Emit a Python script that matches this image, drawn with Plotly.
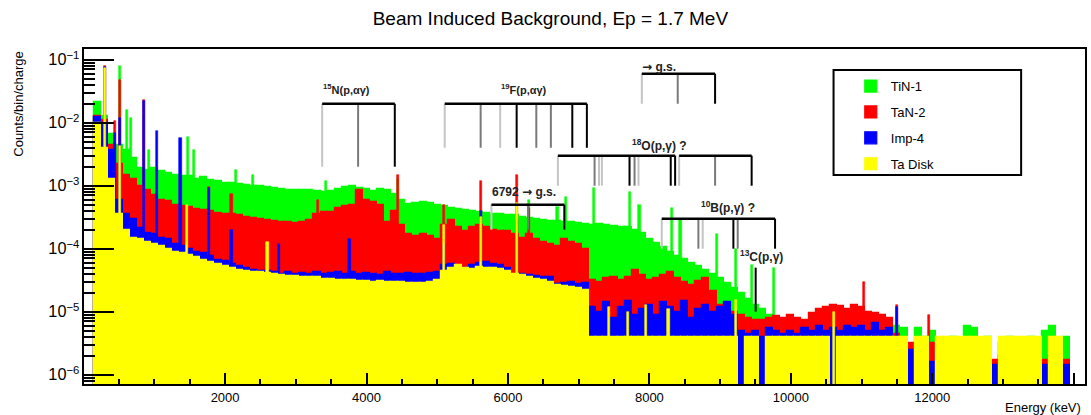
import numpy as np
import plotly.graph_objects as go

# ---------------- data ----------------
BIN_START_KEV = 200      # centre of first 100 keV bin
BIN_WIDTH_KEV = 100
SPIKE_WIDTH_KEV = 30

series_names = ["TiN-1", "TaN-2", "Imp-4", "Ta Disk"]

# continuum, counts/bin/charge, bin centres 200 ... 13900 keV
tin1 = [
    2.1e-2, 1.3e-2, 6.5e-3, 4.5e-3, 3.7e-3, 2.8e-3, 1.9e-3, 1.8e-3,
    1.9e-3, 1.7e-3, 1.6e-3, 1.5e-3, 1.45e-3, 1.4e-3, 1.3e-3, 1.35e-3, 1.25e-3, 1.2e-3,
    1.1e-3, 1.12e-3, 1.05e-3, 1.02e-3, 9.9e-4, 1.0e-3, 9.5e-4, 9.3e-4, 9.0e-4, 8.6e-4,
    8.7e-4, 8.4e-4, 8.5e-4, 8.1e-4, 7.8e-4, 8.2e-4, 9.0e-4, 9.4e-4, 1.0e-3, 9.2e-4,
    8.8e-4, 8.3e-4, 8.9e-4, 8.7e-4, 7.5e-4, 6.0e-4, 5.2e-4, 5.4e-4, 5.5e-4, 5.3e-4,
    5.0e-4, 4.7e-4, 4.5e-4, 4.2e-4, 4.1e-4, 4.0e-4, 3.8e-4, 3.7e-4, 3.5e-4, 3.5e-4,
    3.4e-4, 3.4e-4, 3.2e-4, 3.1e-4, 3.0e-4, 2.9e-4, 2.8e-4, 2.8e-4, 2.7e-4, 2.7e-4,
    2.6e-4, 2.5e-4, 2.4e-4, 2.45e-4, 2.35e-4, 2.3e-4, 2.25e-4, 2.2e-4, 2.0e-4, 1.75e-4,
    1.45e-4, 1.25e-4, 1.05e-4, 9.0e-5, 7.7e-5, 6.8e-5, 6.0e-5, 5.3e-5, 4.6e-5, 4.0e-5,
    3.4e-5, 2.9e-5, 2.4e-5, 2.0e-5, 1.6e-5, 1.3e-5, 1.1e-5, 9.0e-6, 6.0e-6, 7.0e-6,
    6e-6, 5e-6, 6e-6, 7e-6, 6e-6, 7e-6, 8e-6, 7e-6, 6e-6, 8e-6,
    7e-6, 6e-6, 7e-6, 6e-6, 5e-6, 6e-6, 5.5e-6, 0, 5.5e-6, 4e-6,
    5e-6, 0, 0, 4e-6, 0, 6e-6, 5.5e-6, 0, 4e-6, 0,
    0, 4e-6, 0, 0, 4e-6, 0, 5e-6, 6e-6, 0, 4e-6,
]
tan2 = [
    1.3e-2, 1.1e-2, 4.5e-3, 2.2e-3, 1.5e-3, 1.3e-3, 1.0e-3, 8.6e-4,
    7.2e-4, 6.0e-4, 5.7e-4, 5.0e-4, 4.7e-4, 4.6e-4, 4.2e-4, 4.1e-4, 3.9e-4, 3.7e-4,
    3.6e-4, 3.5e-4, 3.4e-4, 3.2e-4, 3.1e-4, 3.0e-4, 2.9e-4, 2.8e-4, 2.7e-4, 2.7e-4,
    2.6e-4, 2.7e-4, 2.9e-4, 3.5e-4, 3.8e-4, 3.8e-4, 4.5e-4, 4.8e-4, 5.0e-4, 8.6e-4,
    6.0e-4, 5.5e-4, 5.0e-4, 2.7e-4, 4.0e-4, 2.4e-4, 1.7e-4, 1.6e-4, 1.7e-4, 1.6e-4,
    1.4e-4, 2.4e-4, 2.9e-4, 2.2e-4, 1.9e-4, 2.2e-4, 2.4e-4, 2.2e-4, 2.0e-4, 1.9e-4,
    1.9e-4, 1.7e-4, 1.5e-4, 1.7e-4, 1.4e-4, 1.3e-4, 1.2e-4, 1.1e-4, 1.4e-4, 1.3e-4,
    1.2e-4, 1.0e-4, 3.2e-5, 3.0e-5, 3.4e-5, 3.6e-5, 3.2e-5, 3.5e-5, 4.6e-5, 3.8e-5,
    3.2e-5, 3.4e-5, 3.8e-5, 4.3e-5, 3.4e-5, 3.0e-5, 2.7e-5, 3.1e-5, 3.4e-5, 2.1e-5,
    1.3e-5, 1.1e-5, 1.0e-5, 9.0e-6, 8.0e-6, 7.5e-6, 7.5e-6, 8.0e-6, 8.5e-6, 8.0e-6,
    9.0e-6, 8.0e-6, 7.5e-6, 9.5e-6, 1.1e-5, 1.2e-5, 1.3e-5, 1.25e-5, 1.1e-5, 1.3e-5,
    1.2e-5, 1.0e-5, 9.5e-6, 9.0e-6, 8.0e-6, 4.5e-6, 3.6e-6, 3.2e-6, 3.2e-6, 3.5e-6,
    3.2e-6, 3.2e-6, 3.0e-6, 3.2e-6, 2.5e-6, 3.2e-6, 1.7e-6, 3.2e-6, 3.0e-6, 1.7e-6,
    3.2e-6, 1.7e-6, 3.2e-6, 1.7e-6, 1.7e-6, 3.2e-6, 1.7e-6, 2.0e-6, 1.7e-6, 1.7e-6,
]
imp4 = [
    1.25e-2, 1.0e-2, 3.7e-3, 6.0e-4, 3.5e-4, 3.0e-4, 2.1e-4, 1.8e-4,
    1.7e-4, 1.5e-4, 1.4e-4, 1.2e-4, 1.1e-4, 1.0e-4, 9.0e-5, 8.5e-5, 7.7e-5, 6.7e-5,
    6.3e-5, 5.7e-5, 5.4e-5, 5.0e-5, 4.6e-5, 4.4e-5, 4.5e-5, 4.2e-5, 4.0e-5, 4.2e-5,
    4.0e-5, 4.1e-5, 3.9e-5, 4.2e-5, 4.0e-5, 4.1e-5, 4.3e-5, 4.0e-5, 4.2e-5, 3.9e-5,
    4.1e-5, 4.0e-5, 3.8e-5, 4.2e-5, 4.0e-5, 3.9e-5, 4.1e-5, 3.9e-5, 4.0e-5, 4.1e-5,
    4.3e-5, 5.5e-5, 5.8e-5, 5.2e-5, 5.0e-5, 5.5e-5, 6.0e-5, 6.2e-5, 5.8e-5, 5.5e-5,
    5.0e-5, 3.5e-5, 3.9e-5, 3.8e-5, 3.7e-5, 3.6e-5, 3.5e-5, 2.8e-5, 2.9e-5, 3.0e-5,
    2.8e-5, 2.9e-5, 1.2e-5, 1.0e-5, 1.4e-5, 8.0e-6, 1.2e-5, 1.5e-5, 9.0e-6, 1.1e-5,
    1.3e-5, 9.0e-6, 1.4e-5, 1.2e-5, 1.0e-5, 1.5e-5, 8.0e-6, 1.1e-5, 1.3e-5, 1.0e-5,
    1.2e-5, 1.4e-5, 9.0e-6, 5.0e-6, 4.5e-6, 5.0e-6, 4.0e-6, 5.5e-6, 5.0e-6, 4.5e-6,
    5.0e-6, 4.5e-6, 5.5e-6, 5.0e-6, 6.0e-6, 5.0e-6, 5.5e-6, 5.0e-6, 6.0e-6, 5.5e-6,
    6.0e-6, 5.0e-6, 6.5e-6, 5.0e-6, 5.5e-6, 2.5e-6, 3.0e-6, 2.5e-6, 2.0e-6, 2.5e-6,
    1.6e-6, 2.5e-6, 1.5e-6, 2.0e-6, 1.5e-6, 2.5e-6, 1.4e-6, 2.0e-6, 1.5e-6, 1.4e-6,
    2.0e-6, 1.4e-6, 1.5e-6, 2.0e-6, 1.4e-6, 1.6e-6, 1.4e-6, 1.5e-6, 1.4e-6, 1.4e-6,
]
ta_disk = [
    1.0e-2, 4.0e-3, 1.3e-3, 3.5e-4, 2.0e-4, 1.5e-4, 1.4e-4, 1.3e-4,
    1.2e-4, 1.1e-4, 1.0e-4, 9.0e-5, 8.5e-5, 8.0e-5, 7.3e-5, 6.7e-5, 6.2e-5, 5.8e-5,
    5.3e-5, 5.0e-5, 4.6e-5, 4.4e-5, 4.3e-5, 4.2e-5, 4.1e-5, 3.9e-5, 3.8e-5, 3.7e-5,
    3.7e-5, 3.6e-5, 3.5e-5, 3.5e-5, 3.3e-5, 3.3e-5, 3.2e-5, 3.2e-5, 3.2e-5, 3.1e-5,
    3.1e-5, 3.0e-5, 3.1e-5, 3.0e-5, 3.0e-5, 3.0e-5, 2.9e-5, 2.9e-5, 2.9e-5, 3.0e-5,
    3.2e-5, 4.5e-5, 5.0e-5, 5.5e-5, 5.0e-5, 4.8e-5, 5.2e-5, 5.0e-5, 4.9e-5, 4.7e-5,
    4.5e-5, 4.0e-5, 3.8e-5, 3.5e-5, 3.3e-5, 3.2e-5, 3.0e-5, 2.7e-5, 2.6e-5, 2.5e-5,
    2.4e-5, 2.2e-5, 4e-6, 4e-6, 4e-6, 4e-6, 4e-6, 4e-6, 4e-6, 4e-6,
    4e-6, 4e-6, 4e-6, 4e-6, 4e-6, 4e-6, 4e-6, 4e-6, 4e-6, 4e-6,
    4e-6, 4e-6, 4e-6, 0, 4e-6, 4e-6, 0, 4e-6, 4e-6, 4e-6,
    4e-6, 4e-6, 4e-6, 4e-6, 4e-6, 4e-6, 0, 4e-6, 4e-6, 4e-6,
    4e-6, 4e-6, 4e-6, 4e-6, 4e-6, 4e-6, 4e-6, 0, 4e-6, 4e-6,
    0, 4e-6, 4e-6, 4e-6, 4e-6, 4e-6, 4e-6, 4e-6, 4e-6, 0,
    4e-6, 4e-6, 4e-6, 4e-6, 4e-6, 4e-6, 0, 4e-6, 4e-6, 0,
]

# narrow gamma lines on top of each continuum
tin1_peak_keV = [511, 610, 665, 930, 1470, 1565, 2160, 2390, 3430, 4440, 6300,
                 6700, 6820, 7215, 7720, 7860, 8320, 8440, 8950, 9220, 9450, 9760]
tin1_peak_val = [8.0e-2, 1.6e-2, 1.2e-2, 3.7e-3, 6.0e-3, 3.7e-3, 1.8e-3, 1.5e-3,
                 1.2e-3, 1.3e-3, 6.0e-4, 4.6e-4, 6.7e-4, 9.3e-4, 8.0e-4, 5.0e-4,
                 4.5e-4, 2.9e-4, 1.7e-4, 1.0e-4, 5.6e-5, 5.0e-5]
tan2_peak_keV = [300, 440, 511, 852, 1770, 2090, 3320, 4440, 5100, 5620, 6130,
                 6300, 11030, 11500, 11950]
tan2_peak_val = [8.0e-2, 1.05e-2, 4.8e-2, 2.3e-2, 9.5e-4, 7.5e-4, 6.0e-4, 1.5e-3,
                 5.0e-4, 1.2e-3, 1.5e-3, 4.5e-4, 3.0e-5, 1.3e-5, 9.0e-6]
imp4_peak_keV = [300, 440, 511, 852, 1035, 1370, 1770, 2090, 2760, 3760, 5100,
                 5620, 6130, 11500]
imp4_peak_val = [7.7e-2, 6.8e-3, 1.2e-2, 2.2e-2, 7.3e-3, 5.8e-3, 9.3e-4, 2.0e-4,
                 1.2e-4, 1.4e-4, 1.2e-4, 3.9e-4, 3.0e-4, 1.2e-5]
ta_disk_peak_keV = [300, 511, 1460, 2600, 5100, 5620, 6130, 7430, 7700, 7950,
                    8270, 9220, 10610]
ta_disk_peak_val = [7.5e-2, 4.2e-3, 5.0e-4, 1.3e-4, 2.4e-4, 3.2e-4, 5.3e-4,
                    1.2e-5, 1.0e-5, 1.3e-5, 1.1e-5, 1.55e-5, 1.0e-5]

series_colors = ["#00ff00", "#ff0000", "#0000ff", "#ffff00"]

# gamma-line markers (energies in keV, shade of each line)
n15_keV = [3373, 3881, 4400]
n15_shade = ["light", "mid", "dark"]
f19_keV = [5106, 5614, 5890, 6123, 6401, 6607, 6910, 7116]
f19_shade = ["light", "mid", "light", "dark", "mid", "mid", "dark", "dark"]
gs_keV = [7893, 8401, 8929]
gs_shade = ["light", "mid", "dark"]
o18a_keV = [6706, 7225, 7288, 7328, 7719, 7790, 7846, 8302, 8364]
o18a_shade = ["light", "mid", "light", "light", "dark", "mid", "light", "dark", "dark"]
o18b_keV = [8421, 8929, 9446]
o18b_shade = ["light", "mid", "dark"]
g6792_keV = [5766, 6283, 6797]
g6792_shade = ["light", "mid", "dark"]
b10_keV = [8175, 8693, 8754, 9188, 9249, 9777]
b10_shade = ["light", "mid", "light", "dark", "mid", "dark"]
c13_keV = [9503]
c13_shade = ["dark"]

x_tick_vals = [2000, 4000, 6000, 8000, 10000, 12000, 14000]
x_tick_text = ["2000", "4000", "6000", "8000", "10000", "12000", "14000"]

# ---------------- figure ----------------
FONT = "Liberation Sans, Arial, Helvetica, sans-serif"
ARROW = '<span style="font-family:DejaVu Sans">\u2192</span>'
centres = BIN_START_KEV + BIN_WIDTH_KEV * np.arange(len(tin1))


def clean(vals):
    return [v if v > 0 else None for v in vals]


fig = go.Figure()
groups = [
    (tin1, tin1_peak_keV, tin1_peak_val),
    (tan2, tan2_peak_keV, tan2_peak_val),
    (imp4, imp4_peak_keV, imp4_peak_val),
    (ta_disk, ta_disk_peak_keV, ta_disk_peak_val),
]
for name, color, (cont, pk_e, pk_v) in zip(series_names, series_colors, groups):
    fig.add_trace(go.Bar(
        x=centres, y=clean(cont), width=BIN_WIDTH_KEV, name=name,
        legendgroup=name, marker=dict(color=color, line=dict(color=color, width=1.2)),
        hoverinfo="skip"))
    fig.add_trace(go.Bar(
        x=pk_e, y=pk_v, width=SPIKE_WIDTH_KEV, name=name, showlegend=False,
        legendgroup=name, marker=dict(color=color, line=dict(color=color, width=0.6)),
        hoverinfo="skip"))

shade_color = {"light": "#c4c4c4", "mid": "#7a7a7a", "dark": "#000000"}
brackets = [
    (n15_keV, n15_shade, 2e-2, 2e-3),
    (f19_keV, f19_shade, 2e-2, 4e-3),
    (gs_keV, gs_shade, 6e-2, 2e-2),
    (o18a_keV, o18a_shade, 3e-3, 1e-3),
    (o18b_keV, o18b_shade, 3e-3, 1e-3),
    (g6792_keV, g6792_shade, 5e-4, 2e-4),
    (b10_keV, b10_shade, 3e-4, 1e-4),
    (c13_keV, c13_shade, 5e-5, 1e-5),
]
for shade in ["light", "mid", "dark"]:
    xs, ys = [], []
    for energies, shades, top, bottom in brackets:
        for e, s in zip(energies, shades):
            if s == shade:
                xs += [e, e, None]
                ys += [top, bottom, None]
    fig.add_trace(go.Scatter(x=xs, y=ys, mode="lines", showlegend=False,
                             line=dict(color=shade_color[shade], width=2),
                             hoverinfo="skip"))
hx, hy = [], []
for energies, shades, top, bottom in brackets:
    if len(energies) > 1:
        hx += [min(energies), max(energies), None]
        hy += [top, top, None]
fig.add_trace(go.Scatter(x=hx, y=hy, mode="lines", showlegend=False,
                         line=dict(color="black", width=2.5), hoverinfo="skip"))

labels = [
    ("<b><sup>15</sup>N(p,\u03b1\u03b3)</b>", 3715, 3.43e-2, 11),
    ("<b><sup>19</sup>F(p,\u03b1\u03b3)</b>", 6229, 3.43e-2, 11),
    ("<b>" + ARROW + " g.s.</b>", 8136, 7.8e-2, 12),
    ("<b><sup>18</sup>O(p,\u03b3) ?</b>", 8150, 4.48e-3, 12),
    ("<b>6792 " + ARROW + " g.s.</b>", 6229, 7.8e-4, 12),
    ("<b><sup>10</sup>B(p,\u03b3) ?</b>", 9117, 4.6e-4, 12),
    ("<b><sup>13</sup>C(p,\u03b3)</b>", 9583, 7.7e-5, 12),
]
for text, x, y, size in labels:
    fig.add_annotation(x=x, y=np.log10(y), xref="x", yref="y", text=text,
                       showarrow=False, xanchor="center", yanchor="middle",
                       font=dict(family=FONT, size=size, color="#222222"))

# axis titles
fig.add_annotation(text="Counts/bin/charge", xref="paper", yref="paper",
                   x=-0.0658, y=0.837, textangle=-90, showarrow=False,
                   xanchor="center", yanchor="middle",
                   font=dict(family=FONT, size=13, color="black"))
fig.add_annotation(text="Energy (keV)", xref="paper", yref="paper",
                   x=0.998, y=-0.069, showarrow=False,
                   xanchor="right", yanchor="middle",
                   font=dict(family=FONT, size=13, color="black"))

# legend frame
fig.add_shape(type="rect", xref="paper", yref="paper",
              x0=0.7488, x1=0.9362, y0=0.624, y1=0.9374,
              line=dict(color="black", width=2), fillcolor="white", layer="above")

fig.update_layout(
    width=1091, height=415,
    margin=dict(l=84, r=4, t=49, b=31),
    paper_bgcolor="white", plot_bgcolor="white",
    barmode="overlay", bargap=0,
    title=dict(text="Beam Induced Background, Ep = 1.7 MeV", x=0.5045, xanchor="center",
               y=1 - 18 / 415, yanchor="middle", yref="container",
               font=dict(family=FONT, size=19, color="black")),
    showlegend=True,
    legend=dict(x=0.766, y=0.934, xanchor="left", yanchor="top",
                bgcolor="rgba(0,0,0,0)", borderwidth=0, tracegroupgap=6,
                font=dict(family=FONT, size=13, color="black"), itemwidth=30),
    font=dict(family=FONT, size=13, color="black"),
)
fig.update_xaxes(range=[5, 14160], showgrid=False, zeroline=False,
                 showline=True, linecolor="black", linewidth=2, mirror=True,
                 tickmode="array", tickvals=x_tick_vals, ticktext=x_tick_text,
                 ticks="inside", ticklen=11, tickcolor="black", tickwidth=1.5,
                 tickfont=dict(family=FONT, size=13, color="black"),
                 minor=dict(tickmode="linear", tick0=0, dtick=500, ticks="inside",
                            ticklen=5, tickcolor="black", tickwidth=1.5, showgrid=False))
fig.update_yaxes(type="log", range=[-6.148, -0.83], showgrid=False, zeroline=False,
                 showline=True, linecolor="black", linewidth=2, mirror=True,
                 dtick=1, exponentformat="power",
                 ticks="inside", ticklen=30, tickcolor="black", tickwidth=2,
                 tickfont=dict(family=FONT, size=13, color="black"),
                 minor=dict(ticks="inside", ticklen=11, tickcolor="black",
                            tickwidth=1.5, dtick="D1", showgrid=False))

fig.write_html("out.html")
